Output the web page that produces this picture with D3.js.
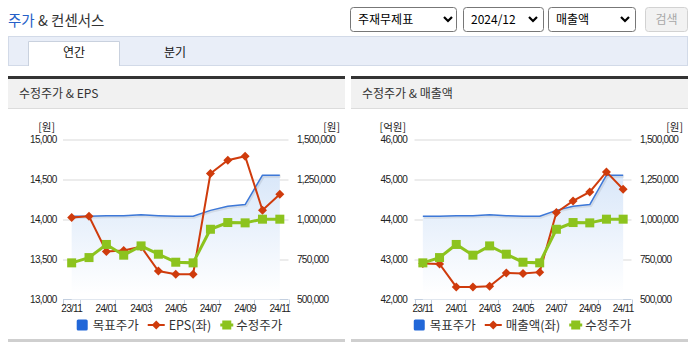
<!DOCTYPE html>
<html><head><meta charset="utf-8">
<script src="https://cdn.jsdelivr.net/npm/d3@7"></script>
<style>
html,body{margin:0;padding:0;background:#fff;overflow:hidden;}
svg{display:block;font-family:"Noto Sans CJK KR","Noto Sans",sans-serif;}
</style></head><body>
<svg id="c" width="696" height="352"></svg>
<script>
// ---------- data ----------
const months = ["23/11","23/12","24/01","24/02","24/03","24/04","24/05","24/06","24/07","24/08","24/09","24/10","24/11"];
const xTickLabels = ["23/11","24/01","24/03","24/05","24/07","24/09","24/11"];
const targetPrice = [1020000,1020000,1024000,1024000,1029000,1024000,1020000,1020000,1057000,1083000,1093000,1277000,1277000];
const adjPrice = [729000,762000,844000,777000,835000,783000,733000,729000,939000,981000,979000,1002000,1002000];
const eps = [14025,14040,13600,13612,13660,13355,13316,13316,14575,14741,14791,14116,14316];
const revenue = [42900,42890,42315,42315,42333,42665,42650,42683,44175,44465,44690,45190,44757];
const epsTicks = [13000,13500,14000,14500,15000];
const revenueTicks = [42000,43000,44000,45000,46000];
const priceTicks = [500000,750000,1000000,1250000,1500000];
const seriesNames = ["목표주가","수정주가"];

const svg = d3.select("#c");
const fmt = d3.format(",");
const BLUE = "#3d78d8", RED = "#cf3b0c", GREEN = "#8cc31e";

// ---------- page chrome ----------
const title = svg.append("text").attr("x",8).attr("y",26).attr("font-size",14.5);
title.append("tspan").attr("fill","#2560c8").text("주가");
title.append("tspan").attr("fill","#333").text(" & 컨센서스");

function selectBox(x,w,label,arrowX){
  svg.append("rect").attr("x",x+0.5).attr("y",7.5).attr("width",w).attr("height",24).attr("rx",3)
    .attr("fill","#fff").attr("stroke","#777");
  svg.append("text").attr("x",x+8).attr("y",23.5).attr("font-size",12).attr("fill","#000").text(label);
  svg.append("path").attr("d",`M${arrowX-4},17 L${arrowX},21 L${arrowX+4},17`)
    .attr("fill","none").attr("stroke","#000").attr("stroke-width",2.2);
}
selectBox(350,106,"주재무제표",448);
selectBox(463,80,"2024/12",533);
selectBox(548,87,"매출액",625);
svg.append("rect").attr("x",645.5).attr("y",7.5).attr("width",42).attr("height",24).attr("rx",3)
  .attr("fill","#f2f2f2").attr("stroke","#d2d2d2");
svg.append("text").attr("x",666.5).attr("y",23.5).attr("text-anchor","middle").attr("font-size",12).attr("fill","#a8a8a8").text("검색");

// tab bar
svg.append("rect").attr("x",8.5).attr("y",36.5).attr("width",679).attr("height",29).attr("fill","#e9eef8").attr("stroke","#d2dae8");
svg.append("path").attr("d","M28.5,66 V41.5 H119.5 V66").attr("fill","#fff").attr("stroke","#c9d1de");
svg.append("rect").attr("x",29).attr("y",42).attr("width",90).attr("height",24).attr("fill","#fff");
svg.append("text").attr("x",74).attr("y",57).attr("text-anchor","middle").attr("font-size",12).attr("fill","#111").text("연간");
svg.append("text").attr("x",175).attr("y",57).attr("text-anchor","middle").attr("font-size",12).attr("fill","#111").text("분기");

// ---------- charts ----------
const plotTop = 139.5, plotBottom = 299.5;
const defs = svg.append("defs");

function drawChart(cfg, idx){
  const g = svg.append("g");
  // panel
  g.append("rect").attr("x",cfg.x0).attr("y",76).attr("width",cfg.x1-cfg.x0).attr("height",3).attr("fill","#333");
  g.append("rect").attr("x",cfg.x0).attr("y",79).attr("width",cfg.x1-cfg.x0).attr("height",29).attr("fill","#f1f1f1");
  g.append("rect").attr("x",cfg.x0).attr("y",108).attr("width",cfg.x1-cfg.x0).attr("height",1).attr("fill","#dcdcdc");
  g.append("rect").attr("x",cfg.x0).attr("y",339).attr("width",cfg.x1-cfg.x0).attr("height",3).attr("fill","#cfcfcf");
  g.append("text").attr("x",cfg.x0+11).attr("y",97.5).attr("font-size",12).attr("fill","#333").text(cfg.title);

  const x = d3.scaleBand().domain(months).range([cfg.plotL,cfg.plotR]).padding(0);
  const cx = m => x(m)+x.bandwidth()/2;
  const yL = d3.scaleLinear().domain(cfg.leftDomain).range([plotBottom,plotTop]);
  const yR = d3.scaleLinear().domain([500000,1500000]).range([plotBottom,plotTop]);

  // gridlines
  g.selectAll(null).data(cfg.leftTicks.slice(1)).join("line")
    .attr("x1",cfg.plotL).attr("x2",cfg.plotR).attr("y1",d=>Math.round(yL(d))).attr("y2",d=>Math.round(yL(d)))
    .attr("stroke","#d9d9d9");

  // axis labels
  const lab = {"font-family":"'Liberation Sans',Arial,sans-serif","font-size":10,"letter-spacing":-0.7,"fill":"#222"};
  const la = g.append("g").selectAll(null).data(cfg.leftTicks).join("text")
    .attr("x",cfg.leftLabelX).attr("y",d=>yL(d)+3.5).attr("text-anchor","end").text(d=>fmt(d));
  const ra = g.append("g").selectAll(null).data(priceTicks).join("text")
    .attr("x",cfg.rightLabelX).attr("y",d=>yR(d)+3.5).attr("text-anchor","start").text(d=>fmt(d));
  [la,ra].forEach(s=>{for(const k in lab) s.attr(k,lab[k]);});
  g.append("text").attr("x",cfg.leftUnitX).attr("y",131).attr("text-anchor","end").attr("font-size",10.5).attr("fill","#222").text(cfg.leftUnit);
  g.append("text").attr("x",cfg.rightUnitX).attr("y",131).attr("text-anchor","end").attr("font-size",10.5).attr("fill","#222").text("[원]");

  // x axis
  g.append("line").attr("x1",cfg.plotL).attr("x2",cfg.plotR).attr("y1",plotBottom).attr("y2",plotBottom).attr("stroke","#c3cfdf");
  const tickIdx = [0,1,3,5,7,9,11,13];
  g.selectAll(null).data(tickIdx).join("line")
    .attr("x1",i=>Math.round(cfg.plotL+i*x.bandwidth())+0.5).attr("x2",i=>Math.round(cfg.plotL+i*x.bandwidth())+0.5)
    .attr("y1",plotBottom).attr("y2",plotBottom+6).attr("stroke","#c3cfdf");
  const xl = g.selectAll(null).data(xTickLabels).join("text")
    .attr("x",d=>cx(d)).attr("y",312).attr("text-anchor","middle").text(d=>d);
  for(const k in lab) xl.attr(k,lab[k]);

  // area gradient + blue line
  const gid = "grad"+idx;
  const grad = defs.append("linearGradient").attr("id",gid).attr("gradientUnits","userSpaceOnUse")
    .attr("x1",0).attr("x2",0).attr("y1",yR(d3.max(targetPrice))).attr("y2",plotBottom-5);
  grad.append("stop").attr("offset",0).attr("stop-color","#d9e7f9");
  grad.append("stop").attr("offset",1).attr("stop-color","#ffffff");
  const area = d3.area().x((d,i)=>cx(months[i])).y0(plotBottom).y1(d=>yR(d));
  g.append("path").attr("d",area(targetPrice)).attr("fill",`url(#${gid})`);
  const lineB = d3.line().x((d,i)=>cx(months[i])).y(d=>yR(d));
  g.append("path").attr("d",lineB(targetPrice)).attr("fill","none").attr("stroke","#000").attr("stroke-opacity",0.08)
    .attr("stroke-width",3).attr("transform","translate(1,1)");
  g.append("path").attr("d",lineB(targetPrice)).attr("fill","none").attr("stroke",BLUE).attr("stroke-width",1.5)
    .attr("stroke-linejoin","round");

  // red left series
  const lineL = d3.line().x((d,i)=>cx(months[i])).y(d=>yL(d));
  g.append("path").attr("d",lineL(cfg.leftData)).attr("fill","none").attr("stroke",RED).attr("stroke-width",2);
  g.selectAll(null).data(cfg.leftData).join("path")
    .attr("d",(d,i)=>{const px=cx(months[i]),py=yL(d);return `M${px},${py-4.5}L${px+4.5},${py}L${px},${py+4.5}L${px-4.5},${py}Z`;})
    .attr("fill",RED);

  // green series
  const lineG = d3.line().x((d,i)=>cx(months[i])).y(d=>yR(d));
  g.append("path").attr("d",lineG(adjPrice)).attr("fill","none").attr("stroke",GREEN).attr("stroke-width",3);
  g.selectAll(null).data(adjPrice).join("rect")
    .attr("x",(d,i)=>cx(months[i])-4.5).attr("y",d=>yR(d)-4.5).attr("width",9).attr("height",9).attr("fill",GREEN);

  // legend
  const lg = g.append("g");
  let pos = 0;
  const ly = 325;
  lg.append("rect").attr("x",pos).attr("y",ly-5.5).attr("width",11).attr("height",11).attr("rx",1.5).attr("fill","#2167d8");
  pos += 16;
  let t = lg.append("text").attr("x",pos).attr("y",ly+4.5).attr("font-size",12.5).attr("fill","#333").text(seriesNames[0]);
  pos += t.node().getComputedTextLength()+9;
  lg.append("line").attr("x1",pos).attr("x2",pos+17).attr("y1",ly).attr("y2",ly).attr("stroke",RED).attr("stroke-width",2);
  lg.append("path").attr("d",`M${pos+8.5},${ly-4.5}L${pos+13},${ly}L${pos+8.5},${ly+4.5}L${pos+4},${ly}Z`).attr("fill",RED);
  pos += 21;
  t = lg.append("text").attr("x",pos).attr("y",ly+4.5).attr("font-size",12.5).attr("fill","#333").text(cfg.leftName);
  pos += t.node().getComputedTextLength()+9;
  lg.append("line").attr("x1",pos).attr("x2",pos+13).attr("y1",ly).attr("y2",ly).attr("stroke",GREEN).attr("stroke-width",3);
  lg.append("rect").attr("x",pos+2).attr("y",ly-4.5).attr("width",9).attr("height",9).attr("fill",GREEN);
  pos += 16;
  t = lg.append("text").attr("x",pos).attr("y",ly+4.5).attr("font-size",12.5).attr("fill","#333").text(seriesNames[1]);
  pos += t.node().getComputedTextLength();
  const center = (cfg.x0+cfg.x1)/2 + 3;
  lg.attr("transform",`translate(${center-pos/2},0)`);
}

drawChart({x0:8,x1:345,plotL:63,plotR:288.5,title:"수정주가 & EPS",leftData:eps,leftDomain:[13000,15000],
  leftTicks:epsTicks,leftUnit:"[원]",leftName:"EPS(좌)",leftLabelX:56.5,rightLabelX:297,leftUnitX:55,rightUnitX:340},0);
drawChart({x0:351,x1:688,plotL:414.5,plotR:631.5,title:"수정주가 & 매출액",leftData:revenue,leftDomain:[42000,46000],
  leftTicks:revenueTicks,leftUnit:"[억원]",leftName:"매출액(좌)",leftLabelX:407,rightLabelX:640,leftUnitX:406,rightUnitX:683},1);
</script>
</body></html>
